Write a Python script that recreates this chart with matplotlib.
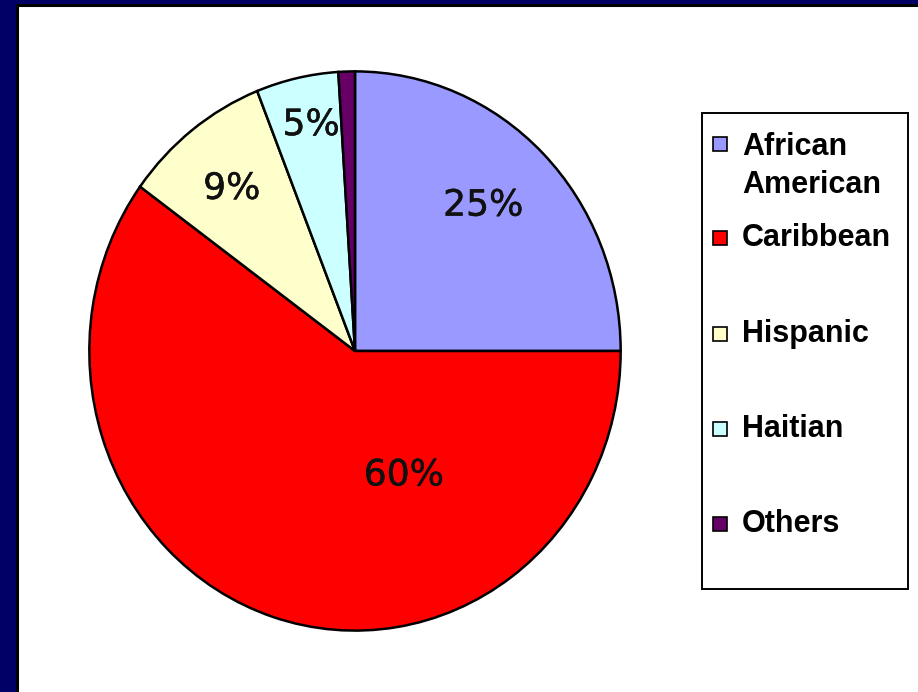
import matplotlib.pyplot as plt
import matplotlib.patheffects as pe
from matplotlib.patches import Rectangle

labels = ["African\nAmerican", "Caribbean", "Hispanic", "Haitian", "Others"]
shares = [25, 60, 9, 5, 1]
colors = ["#9999FF", "#FF0000", "#FFFFCC", "#CCFFFF", "#660066"]

# where the percent labels sit inside the pie (data units, radius 1)
label_xy = [(0.483, 0.52), (0.184, -0.445), (-0.464, 0.58), (-0.165, 0.808)]

W, H = 918, 692


def fx(px):
    return px / W


def fy(py):
    return 1 - py / H


fig = plt.figure(figsize=(W / 100, H / 100), dpi=100)
fig.patch.set_facecolor("#000066")

# white chart panel with a black frame on the slide (runs off right and bottom)
panel = Rectangle((fx(16.5), -0.1), 1.2, fy(4.5) + 0.1, transform=fig.transFigure,
                  facecolor="white", edgecolor="black", linewidth=2.2, zorder=0)
fig.add_artist(panel)

ax = fig.add_axes([fx(88), fy(632), fx(622) - fx(88), fy(70) - fy(632)])
wedges, texts, autotexts = ax.pie(
    shares, colors=colors, startangle=90, counterclock=False,
    autopct=lambda p: "%d%%" % round(p) if p >= 2 else "",
    wedgeprops=dict(edgecolor="black", linewidth=1.8),
    textprops=dict(fontsize=26, color="#111111", family="DejaVu Sans"))
ax.set_aspect("auto")
ax.set_xlim(-1.005, 1.005)
ax.set_ylim(-1.005, 1.005)
ax.axis("off")

for t, (x, y) in zip(autotexts, label_xy):
    t.set_position((x, y))
    t.set_ha("center")
    t.set_va("center")
    t.set_path_effects([pe.withStroke(linewidth=0.35, foreground="#111111")])

# legend box drawn by hand
box = Rectangle((fx(701.5), fy(588.5)), fx(908) - fx(701.5), fy(113) - fy(588.5),
                transform=fig.transFigure, facecolor="white", edgecolor="black",
                linewidth=1.4, zorder=2)
fig.add_artist(box)

key_y = [144, 238, 334, 429, 524]
text_y = [166, 238, 334, 429, 524]
sq = 14
for lab, col, ky, ty in zip(labels, colors, key_y, text_y):
    fig.add_artist(Rectangle((fx(713), fy(ky + sq / 2)), fx(sq), sq / H,
                             transform=fig.transFigure, facecolor=col,
                             edgecolor="black", linewidth=1.2, zorder=3))
    fig.text(fx(742), fy(ty), lab, fontsize=22, fontweight="bold",
             family="Liberation Sans", ha="left", va="center",
             linespacing=1.33, zorder=4)

fig.savefig("out.png", dpi=100, facecolor=fig.get_facecolor())
